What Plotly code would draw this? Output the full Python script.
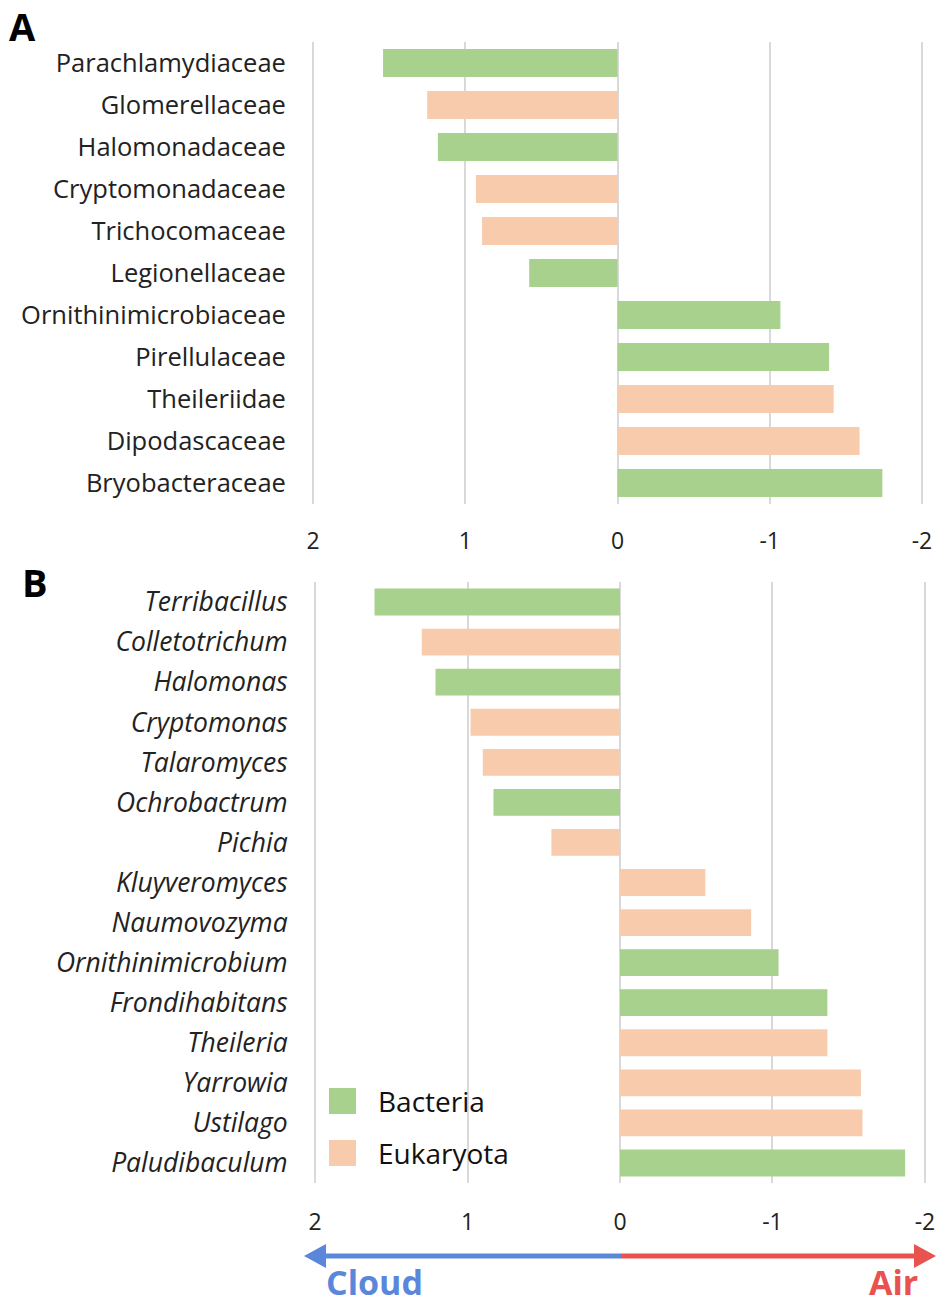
import plotly.graph_objects as go

W, H = 937, 1307

# ---- data ----
fam_names = ["Parachlamydiaceae", "Glomerellaceae", "Halomonadaceae", "Cryptomonadaceae",
             "Trichocomaceae", "Legionellaceae", "Ornithinimicrobiaceae", "Pirellulaceae",
             "Theileriidae", "Dipodascaceae", "Bryobacteraceae"]
fam_values = [1.54, 1.25, 1.18, 0.93, 0.89, 0.58, -1.07, -1.39, -1.42, -1.59, -1.74]
fam_domain = ["Bacteria", "Eukaryota", "Bacteria", "Eukaryota", "Eukaryota", "Bacteria",
              "Bacteria", "Bacteria", "Eukaryota", "Eukaryota", "Bacteria"]

gen_names = ["Terribacillus", "Colletotrichum", "Halomonas", "Cryptomonas", "Talaromyces",
             "Ochrobactrum", "Pichia", "Kluyveromyces", "Naumovozyma", "Ornithinimicrobium",
             "Frondihabitans", "Theileria", "Yarrowia", "Ustilago", "Paludibaculum"]
gen_values = [1.61, 1.30, 1.21, 0.98, 0.90, 0.83, 0.45, -0.56, -0.86, -1.04,
              -1.36, -1.36, -1.58, -1.59, -1.87]
gen_domain = ["Bacteria", "Eukaryota", "Bacteria", "Eukaryota", "Eukaryota", "Bacteria",
              "Eukaryota", "Eukaryota", "Eukaryota", "Bacteria", "Bacteria", "Eukaryota",
              "Eukaryota", "Eukaryota", "Bacteria"]

x_ticks = [2, 1, 0, -1, -2]
x_ticktext = ["2", "1", "0", "-1", "-2"]

COLORS = {"Bacteria": "#A9D18E", "Eukaryota": "#F8CBAD"}
FONT = "Open Sans"

def px(x):
    return x / W

def py(y):
    return 1 - y / H

fig = go.Figure()
fig.add_trace(go.Bar(
    y=fam_names, x=fam_values, orientation="h",
    marker=dict(color=[COLORS[d] for d in fam_domain], line=dict(width=0)),
    xaxis="x", yaxis="y", showlegend=False, hoverinfo="x+y"))
fig.add_trace(go.Bar(
    y=[f"<i>{g}</i>" for g in gen_names], x=gen_values, orientation="h",
    marker=dict(color=[COLORS[d] for d in gen_domain], line=dict(width=0)),
    xaxis="x2", yaxis="y2", showlegend=False, hoverinfo="x+y"))

# slightly padded range so the gridlines at +/-2 are drawn
XR = [2.02, -2.02]
common_x = dict(range=XR, tickvals=x_ticks, ticktext=x_ticktext, automargin=False,
                showgrid=True, gridcolor="#D9D9D9", gridwidth=2, zeroline=False,
                showline=False, ticks="outside", tickcolor="rgba(0,0,0,0)",
                tickfont=dict(family=FONT, size=23, color="#222222"), fixedrange=True)
common_y = dict(autorange="reversed", showgrid=False, zeroline=False, showline=False,
                automargin=False, ticks="outside", ticklen=18, tickcolor="rgba(0,0,0,0)",
                fixedrange=True)

fig.update_layout(
    width=W, height=H, margin=dict(l=0, r=0, t=0, b=0, autoexpand=False),
    paper_bgcolor="white", plot_bgcolor="white",
    bargap=0.33, showlegend=False,
    xaxis=dict(domain=[px(310), px(925)], anchor="y", ticklen=16, **common_x),
    yaxis=dict(domain=[py(504), py(42)], anchor="x",
               tickfont=dict(family=FONT, size=25.5, color="#222222"), **common_y),
    xaxis2=dict(domain=[px(312), px(928)], anchor="y2", ticklen=18, **common_x),
    yaxis2=dict(domain=[py(1183), py(582)], anchor="x2",
                tickfont=dict(family=FONT, size=26.5, color="#222222"), **common_y),
)

shapes = []
annotations = []

# panel letters
annotations.append(dict(x=px(7), y=py(26), xref="paper", yref="paper", text="<b>A</b>",
                        showarrow=False, xanchor="left", yanchor="middle",
                        font=dict(family=FONT, size=38, color="black")))
annotations.append(dict(x=px(20), y=py(582), xref="paper", yref="paper", text="<b>B</b>",
                        showarrow=False, xanchor="left", yanchor="middle",
                        font=dict(family=FONT, size=38, color="black")))

# legend
for name, yc in [("Bacteria", 1101), ("Eukaryota", 1153)]:
    shapes.append(dict(type="rect", xref="paper", yref="paper",
                       x0=px(329), x1=px(356), y0=py(yc - 13), y1=py(yc + 13),
                       fillcolor=COLORS[name], line=dict(width=0)))
    annotations.append(dict(x=px(376), y=py(yc), xref="paper", yref="paper", text=name,
                            showarrow=False, xanchor="left", yanchor="middle",
                            font=dict(family=FONT, size=28, color="#111111")))

# Cloud / Air arrow
BLUE = "#5B87DA"
RED = "#E8534F"
ay = 1256
shapes.append(dict(type="line", xref="paper", yref="paper", x0=px(320), x1=px(621),
                   y0=py(ay), y1=py(ay), line=dict(color=BLUE, width=5)))
shapes.append(dict(type="line", xref="paper", yref="paper", x0=px(621), x1=px(920),
                   y0=py(ay), y1=py(ay), line=dict(color=RED, width=5)))
shapes.append(dict(type="path", xref="paper", yref="paper",
                   path=f"M {px(304)},{py(ay)} L {px(326)},{py(ay-12)} L {px(326)},{py(ay+12)} Z",
                   fillcolor=BLUE, line=dict(width=0)))
shapes.append(dict(type="path", xref="paper", yref="paper",
                   path=f"M {px(936)},{py(ay)} L {px(914)},{py(ay-12)} L {px(914)},{py(ay+12)} Z",
                   fillcolor=RED, line=dict(width=0)))
annotations.append(dict(x=px(324), y=py(1282), xref="paper", yref="paper", text="<b>Cloud</b>",
                        showarrow=False, xanchor="left", yanchor="middle",
                        font=dict(family=FONT, size=34, color=BLUE)))
annotations.append(dict(x=px(920), y=py(1282), xref="paper", yref="paper", text="<b>Air</b>",
                        showarrow=False, xanchor="right", yanchor="middle",
                        font=dict(family=FONT, size=34, color=RED)))

fig.update_layout(shapes=shapes, annotations=annotations)
fig.write_html("out.html", config={"displayModeBar": False},
               post_script="document.body.style.margin='0';")
